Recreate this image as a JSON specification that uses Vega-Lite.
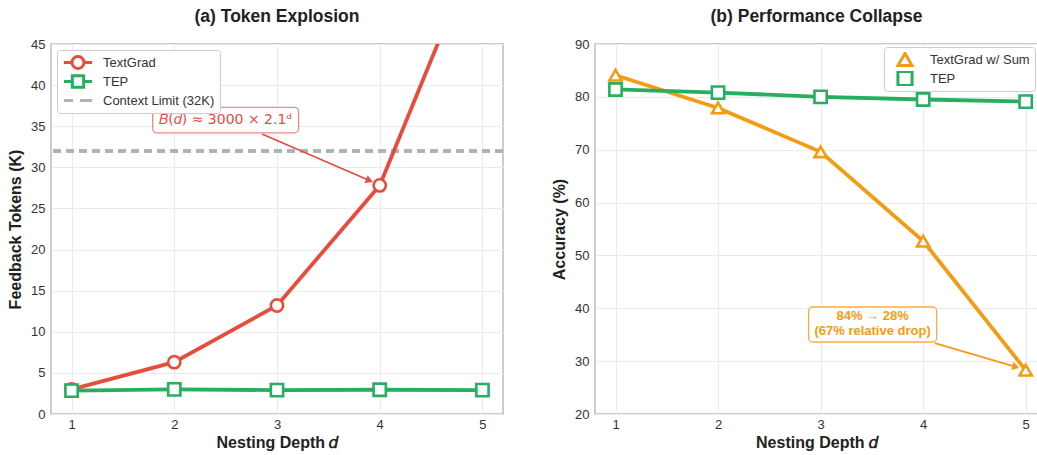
{
  "$schema": "https://vega.github.io/schema/vega-lite/v6.json",
  "background": "white",
  "padding": {"left": 6, "top": 6, "right": 0, "bottom": 3},
  "spacing": 44,
  "datasets": {
    "tokens": [
      {"depth": 1, "tokens": 3.0, "series": "TextGrad"},
      {"depth": 2, "tokens": 6.3, "series": "TextGrad"},
      {"depth": 3, "tokens": 13.2, "series": "TextGrad"},
      {"depth": 4, "tokens": 27.8, "series": "TextGrad"},
      {"depth": 5, "tokens": 58.3, "series": "TextGrad"},
      {"depth": 1, "tokens": 2.85, "series": "TEP"},
      {"depth": 2, "tokens": 3.0, "series": "TEP"},
      {"depth": 3, "tokens": 2.9, "series": "TEP"},
      {"depth": 4, "tokens": 2.95, "series": "TEP"},
      {"depth": 5, "tokens": 2.9, "series": "TEP"}
    ],
    "accuracy": [
      {"depth": 1, "acc": 84.1, "method": "TextGrad w/ Sum"},
      {"depth": 2, "acc": 77.9, "method": "TextGrad w/ Sum"},
      {"depth": 3, "acc": 69.6, "method": "TextGrad w/ Sum"},
      {"depth": 4, "acc": 52.7, "method": "TextGrad w/ Sum"},
      {"depth": 5, "acc": 28.3, "method": "TextGrad w/ Sum"},
      {"depth": 1, "acc": 81.4, "method": "TEP"},
      {"depth": 2, "acc": 80.8, "method": "TEP"},
      {"depth": 3, "acc": 80.0, "method": "TEP"},
      {"depth": 4, "acc": 79.5, "method": "TEP"},
      {"depth": 5, "acc": 79.1, "method": "TEP"}
    ],
    "noteA": [{"label": "𝐵(𝑑) ≈ 3000 × 2.1ᵈ"}],
    "noteB": [{"line1": "84% → 28%", "line2": "(67% relative drop)"}]
  },
  "config": {
    "font": "Liberation Sans",
    "view": {"stroke": "#cccccc", "strokeWidth": 2},
    "title": {"font": "Liberation Sans", "fontSize": 17.5, "fontWeight": "bold", "color": "#222222", "offset": 13},
    "axis": {
      "labelFont": "Liberation Sans", "labelFontSize": 13, "labelColor": "#333333",
      "titleFont": "Liberation Sans", "titleFontSize": 16, "titleFontWeight": "bold", "titleColor": "#222222",
      "grid": true, "gridColor": "#ebebeb", "gridWidth": 1,
      "domain": false, "ticks": false, "labelPadding": 6, "titlePadding": 7
    },
    "legend": {
      "labelFont": "Liberation Sans", "labelFontSize": 13, "labelColor": "#333333",
      "fillColor": "white", "strokeColor": "#cccccc", "cornerRadius": 3, "padding": 5,
      "symbolSize": 200, "symbolStrokeWidth": 3, "symbolOffset": 7, "rowPadding": 4, "labelOffset": 16,
      "clipHeight": 15
    }
  },
  "resolve": {
    "scale": {"x": "independent", "y": "independent", "color": "independent", "shape": "independent"},
    "legend": {"color": "independent"}
  },
  "hconcat": [
    {
      "width": 452,
      "height": 370,
      "title": "(a) Token Explosion",
      "layer": [
        {
          "data": {"name": "tokens"},
          "mark": {"type": "rule", "strokeDash": [8, 5], "strokeWidth": 2.5},
          "encoding": {
            "y": {"datum": 32, "type": "quantitative"},
            "color": {"datum": "Context Limit (32K)", "type": "nominal"}
          }
        },
        {
          "data": {"name": "tokens"},
          "mark": {"type": "line", "strokeWidth": 3.8, "clip": true},
          "encoding": {
            "x": {"field": "depth", "type": "quantitative", "scale": {"domain": [0.8, 5.2], "nice": false, "zero": false},
                  "axis": {"values": [1, 2, 3, 4, 5], "format": "d", "title": "Nesting Depth 𝑑", "labelPadding": 4, "titlePadding": 3}},
            "y": {"field": "tokens", "type": "quantitative", "scale": {"domain": [0, 45], "nice": false},
                  "axis": {"values": [0, 5, 10, 15, 20, 25, 30, 35, 40, 45], "title": "Feedback Tokens (K)"}},
            "color": {
              "field": "series", "type": "nominal",
              "scale": {"domain": ["TextGrad", "TEP", "Context Limit (32K)"], "range": ["#e74c3c", "#27ae60", "#aab4b5"]},
              "legend": {
                "title": null, "orient": "top-left", "offset": 6,
                "encode": {
                  "symbols": {
                    "update": {
                      "shape": {"signal": "datum.value === 'TextGrad' ? 'M-2,0H-0.85M0.85,0H2M0.85,0A0.85,0.85 0 1 1 -0.85,0A0.85,0.85 0 1 1 0.85,0Z' : datum.value === 'TEP' ? 'M-2,0H-0.8M0.8,0H2M-0.8,-0.8H0.8V0.8H-0.8Z' : 'M-2,0H-0.7M0.3,0H2'"},
                      "fill": {"value": "white"},
                      "strokeWidth": {"value": 3}
                    }
                  }
                }
              }
            }
          }
        },
        {
          "data": {"name": "tokens"},
          "mark": {"type": "point", "filled": false, "fill": "white", "size": 150, "strokeWidth": 2.6, "opacity": 1, "clip": true},
          "encoding": {
            "x": {"field": "depth", "type": "quantitative"},
            "y": {"field": "tokens", "type": "quantitative"},
            "color": {"field": "series", "type": "nominal"},
            "shape": {"field": "series", "type": "nominal", "scale": {"domain": ["TextGrad", "TEP"], "range": ["circle", "square"]}, "legend": null}
          }
        },
        {
          "data": {"name": "noteA"},
          "mark": {"type": "rule", "strokeWidth": 1.6, "color": "#e74c3c"},
          "encoding": {
            "x": {"datum": 2.854}, "y": {"datum": 34.05},
            "x2": {"datum": 3.9}, "y2": {"datum": 28.4}
          }
        },
        {
          "data": {"name": "noteA"},
          "mark": {"type": "point", "shape": "triangle-right", "filled": true, "size": 70, "angle": 23.4, "color": "#e74c3c", "opacity": 1},
          "encoding": {"x": {"datum": 3.9}, "y": {"datum": 28.4}}
        },
        {
          "data": {"name": "noteA"},
          "mark": {"type": "rect", "fill": "white", "fillOpacity": 0.85, "stroke": "#ee8a7e", "strokeWidth": 1.3, "cornerRadius": 4},
          "encoding": {
            "x": {"datum": 1.79}, "x2": {"datum": 3.21},
            "y": {"datum": 37.3}, "y2": {"datum": 34.2}
          }
        },
        {
          "data": {"name": "noteA"},
          "mark": {"type": "text", "font": "DejaVu Sans", "fontSize": 14, "color": "#e74c3c"},
          "encoding": {"x": {"datum": 2.5}, "y": {"datum": 35.75}, "text": {"field": "label"}}
        }
      ]
    },
    {
      "width": 443,
      "height": 370,
      "title": "(b) Performance Collapse",
      "layer": [
        {
          "data": {"name": "accuracy"},
          "mark": {"type": "line", "strokeWidth": 3.8},
          "encoding": {
            "x": {"field": "depth", "type": "quantitative", "scale": {"domain": [0.8, 5.12], "nice": false, "zero": false},
                  "axis": {"values": [1, 2, 3, 4, 5], "format": "d", "title": "Nesting Depth 𝑑", "labelPadding": 4, "titlePadding": 3}},
            "y": {"field": "acc", "type": "quantitative", "scale": {"domain": [20, 90], "nice": false, "zero": false},
                  "axis": {"values": [20, 30, 40, 50, 60, 70, 80, 90], "title": "Accuracy (%)"}},
            "color": {
              "field": "method", "type": "nominal",
              "scale": {"domain": ["TextGrad w/ Sum", "TEP"], "range": ["#f39c12", "#27ae60"]},
              "legend": {
                "title": null, "orient": "top-right", "offset": 3,
                "encode": {
                  "symbols": {
                    "update": {
                      "shape": {"signal": "datum.value === 'TEP' ? 'M-2,0H-0.8M0.8,0H2M-0.8,-0.8H0.8V0.8H-0.8Z' : 'M-2,0H-0.55M0.55,0H2M0,-1L0.95,0.7H-0.95Z'"},
                      "fill": {"value": "white"},
                      "strokeWidth": {"value": 3}
                    }
                  }
                }
              }
            }
          }
        },
        {
          "data": {"name": "accuracy"},
          "mark": {"type": "point", "filled": false, "fill": "white", "size": 150, "strokeWidth": 2.6, "opacity": 1},
          "encoding": {
            "x": {"field": "depth", "type": "quantitative"},
            "y": {"field": "acc", "type": "quantitative"},
            "color": {"field": "method", "type": "nominal"},
            "shape": {"field": "method", "type": "nominal", "scale": {"domain": ["TextGrad w/ Sum", "TEP"], "range": ["triangle-up", "square"]}, "legend": null}
          }
        },
        {
          "data": {"name": "noteB"},
          "mark": {"type": "rule", "strokeWidth": 1.8, "color": "#f39c12"},
          "encoding": {
            "x": {"datum": 4.112}, "y": {"datum": 33.43},
            "x2": {"datum": 4.904}, "y2": {"datum": 28.91}
          }
        },
        {
          "data": {"name": "noteB"},
          "mark": {"type": "point", "shape": "triangle-right", "filled": true, "size": 70, "angle": 16.4, "color": "#f39c12", "opacity": 1},
          "encoding": {"x": {"datum": 4.904}, "y": {"datum": 28.91}}
        },
        {
          "data": {"name": "noteB"},
          "mark": {"type": "rect", "fill": "white", "fillOpacity": 0.85, "stroke": "#f5b041", "strokeWidth": 1.3, "cornerRadius": 4},
          "encoding": {
            "x": {"datum": 2.883}, "x2": {"datum": 4.132},
            "y": {"datum": 40.24}, "y2": {"datum": 33.62}
          }
        },
        {
          "data": {"name": "noteB"},
          "mark": {"type": "text", "font": "Liberation Sans", "fontSize": 13, "fontWeight": "bold", "color": "#f39c12"},
          "encoding": {"x": {"datum": 3.507}, "y": {"datum": 38.54}, "text": {"field": "line1"}}
        },
        {
          "data": {"name": "noteB"},
          "mark": {"type": "text", "font": "Liberation Sans", "fontSize": 13, "fontWeight": "bold", "color": "#f39c12"},
          "encoding": {"x": {"datum": 3.507}, "y": {"datum": 35.7}, "text": {"field": "line2"}}
        }
      ]
    }
  ]
}
